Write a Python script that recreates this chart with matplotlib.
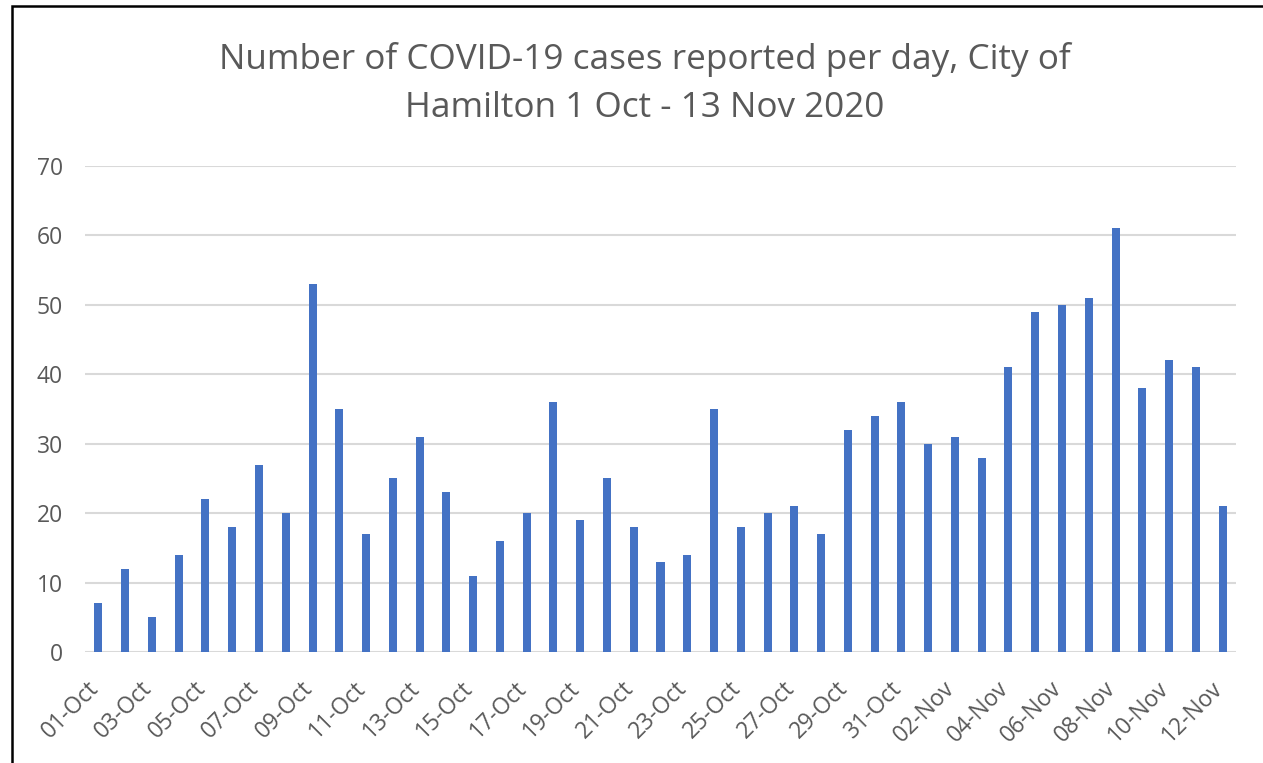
import matplotlib
matplotlib.use("Agg")
import matplotlib.pyplot as plt
import matplotlib.transforms as mtransforms
from matplotlib.patches import Rectangle

dates = ["01-Oct","02-Oct","03-Oct","04-Oct","05-Oct","06-Oct","07-Oct","08-Oct","09-Oct","10-Oct",
         "11-Oct","12-Oct","13-Oct","14-Oct","15-Oct","16-Oct","17-Oct","18-Oct","19-Oct","20-Oct",
         "21-Oct","22-Oct","23-Oct","24-Oct","25-Oct","26-Oct","27-Oct","28-Oct","29-Oct","30-Oct",
         "31-Oct","01-Nov","02-Nov","03-Nov","04-Nov","05-Nov","06-Nov","07-Nov","08-Nov","09-Nov",
         "10-Nov","11-Nov","12-Nov"]
cases = [7, 12, 5, 14, 22, 18, 27, 20, 53, 35,
         17, 25, 31, 23, 11, 16, 20, 36, 19, 25,
         18, 13, 14, 35, 18, 20, 21, 17, 32, 34,
         36, 30, 31, 28, 41, 49, 50, 51, 61, 38,
         42, 41, 21]
yticks = [0, 10, 20, 30, 40, 50, 60, 70]
title = "Number of COVID-19 cases reported per day, City of\nHamilton 1 Oct - 13 Nov 2020"

plt.rcParams['font.family'] = ['Open Sans', 'DejaVu Sans']
fig = plt.figure(figsize=(12.63, 7.63), dpi=100)
ax = fig.add_axes([85/1263, 1-652/763, (1236-85)/1263, (652-166)/763])

x = list(range(len(dates)))
ax.bar(x, cases, width=0.3, color="#4472C4", zorder=3)
ax.set_xlim(-0.5, len(dates)-0.5)
ax.set_ylim(0, 70)
ax.set_yticks(yticks)
ax.set_yticklabels([str(v) for v in yticks])
ax.yaxis.grid(True, color="#D9D9D9", linewidth=1.5, zorder=0)
ax.set_axisbelow(True)
ax.set_xticks(x[::2])
ax.set_xticklabels(dates[::2], rotation=45, ha="right", rotation_mode="anchor")
for s in ax.spines.values():
    s.set_visible(False)
ax.tick_params(axis="both", length=0, colors="#595959", labelsize=16.5)
ax.tick_params(axis="y", pad=16)
ax.tick_params(axis="x", pad=18)
offset = mtransforms.ScaledTranslation(-12/100, 0, fig.dpi_scale_trans)
for lbl in ax.get_xticklabels():
    lbl.set_transform(lbl.get_transform() + offset)

fig.text(645/1263, 1-83.5/763, title, ha="center", va="center", fontsize=25.3,
         color="#595959", linespacing=1.55)

fig.patches.append(Rectangle((12/1263, -0.1), 1.2, 1-6/763+0.1, transform=fig.transFigure,
                             fill=False, edgecolor="black", linewidth=1.8))

fig.savefig("out.png", dpi=100)
